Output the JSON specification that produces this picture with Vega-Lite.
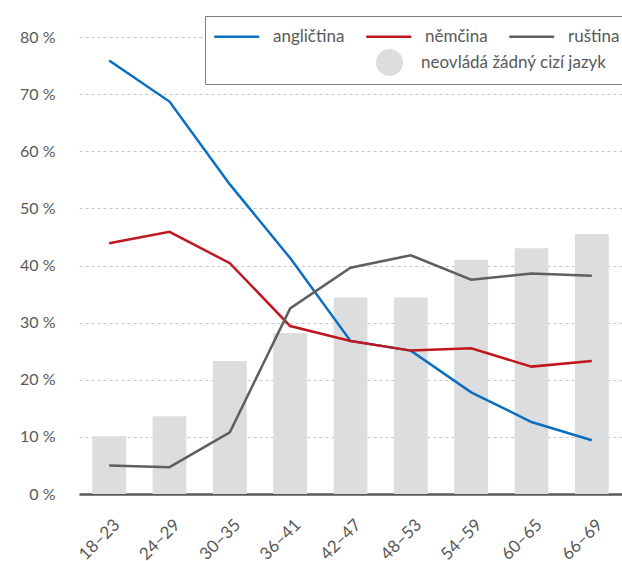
{
  "$schema": "https://vega.github.io/schema/vega-lite/v6.json",
  "width": 543,
  "height": 457,
  "autosize": {"type": "none"},
  "padding": {"left": 79, "top": 37, "right": 0, "bottom": 67},
  "config": {
    "font": "Lato",
    "view": {"stroke": null},
    "axis": {"labelColor": "#595959", "labelFont": "Lato", "ticks": false, "title": null}
  },
  "datasets": {
    "bars": [
      {"vek": "18–23", "podil": 10.1},
      {"vek": "24–29", "podil": 13.6},
      {"vek": "30–35", "podil": 23.3},
      {"vek": "36–41", "podil": 28.2},
      {"vek": "42–47", "podil": 34.4},
      {"vek": "48–53", "podil": 34.4},
      {"vek": "54–59", "podil": 41.0},
      {"vek": "60–65", "podil": 43.0},
      {"vek": "66–69", "podil": 45.5}
    ],
    "lines": [
      {"vek": "18–23", "jazyk": "angličtina", "podil": 75.9},
      {"vek": "24–29", "jazyk": "angličtina", "podil": 68.7},
      {"vek": "30–35", "jazyk": "angličtina", "podil": 54.2},
      {"vek": "36–41", "jazyk": "angličtina", "podil": 41.3},
      {"vek": "42–47", "jazyk": "angličtina", "podil": 26.8},
      {"vek": "48–53", "jazyk": "angličtina", "podil": 25.1},
      {"vek": "54–59", "jazyk": "angličtina", "podil": 17.8},
      {"vek": "60–65", "jazyk": "angličtina", "podil": 12.6},
      {"vek": "66–69", "jazyk": "angličtina", "podil": 9.4},
      {"vek": "18–23", "jazyk": "němčina", "podil": 43.9},
      {"vek": "24–29", "jazyk": "němčina", "podil": 45.9},
      {"vek": "30–35", "jazyk": "němčina", "podil": 40.4},
      {"vek": "36–41", "jazyk": "němčina", "podil": 29.4},
      {"vek": "42–47", "jazyk": "němčina", "podil": 26.8},
      {"vek": "48–53", "jazyk": "němčina", "podil": 25.1},
      {"vek": "54–59", "jazyk": "němčina", "podil": 25.5},
      {"vek": "60–65", "jazyk": "němčina", "podil": 22.3},
      {"vek": "66–69", "jazyk": "němčina", "podil": 23.3},
      {"vek": "18–23", "jazyk": "ruština", "podil": 5.0},
      {"vek": "24–29", "jazyk": "ruština", "podil": 4.7},
      {"vek": "30–35", "jazyk": "ruština", "podil": 10.8},
      {"vek": "36–41", "jazyk": "ruština", "podil": 32.5},
      {"vek": "42–47", "jazyk": "ruština", "podil": 39.6},
      {"vek": "48–53", "jazyk": "ruština", "podil": 41.8},
      {"vek": "54–59", "jazyk": "ruština", "podil": 37.5},
      {"vek": "60–65", "jazyk": "ruština", "podil": 38.6},
      {"vek": "66–69", "jazyk": "ruština", "podil": 38.2}
    ]
  },
  "layer": [
    {
      "data": {"name": "bars"},
      "mark": {"type": "bar"},
      "encoding": {
        "x": {
          "field": "vek", "type": "nominal", "sort": null,
          "scale": {"paddingInner": 0.44, "paddingOuter": 0.22},
          "axis": {
            "labelAngle": -45, "labelAlign": "right", "labelBaseline": "middle",
            "labelFontSize": 17, "labelPadding": 28, "labelOffset": 8,
            "domainColor": "#595959", "domainWidth": 2.5, "grid": false
          }
        },
        "y": {
          "field": "podil", "type": "quantitative",
          "scale": {"domain": [0, 80]},
          "axis": {
            "values": [0, 10, 20, 30, 40, 50, 60, 70, 80],
            "labelExpr": "datum.value + ' %'",
            "labelFontSize": 16, "labelPadding": 24,
            "domain": false, "grid": true,
            "gridColor": "#c8c8c8", "gridDash": [3, 3], "gridWidth": 1
          }
        },
        "fill": {
          "datum": "neovládá žádný cizí jazyk",
          "scale": {"range": ["#dcdddf"]},
          "legend": {
            "orient": "none", "legendX": 297, "legendY": 12, "zindex": 2,
            "title": null, "symbolType": "circle", "symbolSize": 729,
            "symbolStrokeWidth": 0, "labelOffset": 18, "labelFontSize": 17,
            "labelColor": "#595959", "padding": 0, "labelLimit": 300
          }
        }
      }
    },
    {
      "data": {"name": "lines"},
      "mark": {"type": "line", "strokeWidth": 2.5},
      "encoding": {
        "x": {"field": "vek", "type": "nominal", "sort": null},
        "y": {"field": "podil", "type": "quantitative"},
        "stroke": {
          "field": "jazyk", "type": "nominal",
          "scale": {"domain": ["angličtina", "němčina", "ruština"], "range": ["#0a6fc0", "#c0171f", "#5f5f5f"]},
          "legend": {
            "orient": "none", "legendX": 126, "legendY": -21, "zindex": 1,
            "direction": "horizontal", "title": " ", "titleOrient": "bottom",
            "titleFontSize": 25, "titlePadding": 6, "padding": 8,
            "strokeColor": "#7f7f7f", "fillColor": "white",
            "symbolType": "M-1,0H3", "symbolSize": 506, "symbolStrokeWidth": 2.5,
            "labelOffset": 35, "labelFontSize": 17, "labelColor": "#595959",
            "columnPadding": 16, "labelLimit": 300
          }
        }
      }
    }
  ]
}
